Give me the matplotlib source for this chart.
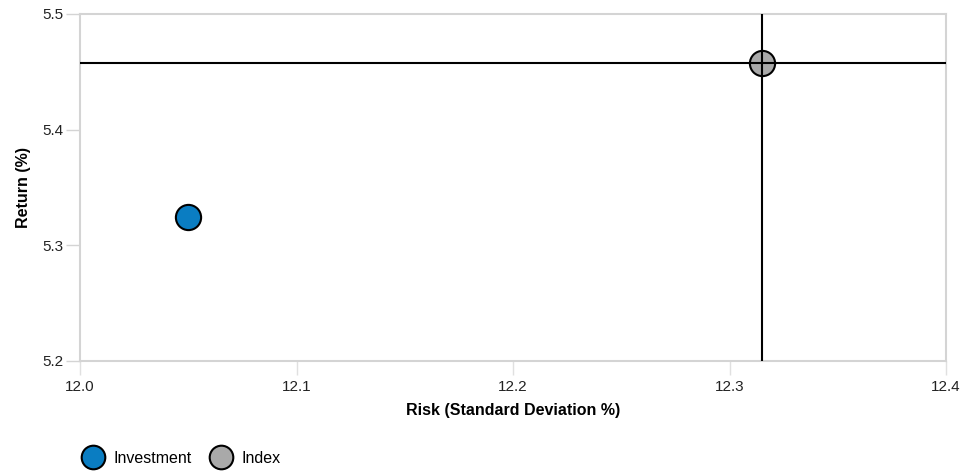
import matplotlib.pyplot as plt
from matplotlib.lines import Line2D

plt.rcParams.update({'font.family': 'Liberation Sans', 'font.size': 11})

# data
names = ['Investment', 'Index']
risk = [12.05, 12.315]
ret = [5.3245, 5.4576]
colors = ['#0a7dc2', '#a9a9a9']

xticks = [12.0, 12.1, 12.2, 12.3, 12.4]
yticks = [5.2, 5.3, 5.4, 5.5]

fig = plt.figure(figsize=(9.64, 4.71), dpi=100)
ax = fig.add_axes([80/964, 1-361/471, 866/964, 347/471])

for i in range(len(names)):
    ax.scatter(risk[i], ret[i], s=330, color=colors[i], edgecolor='k', linewidth=1.5, zorder=3)

# crosshair at index, drawn over the marker
ax.axvline(risk[1], color='k', lw=1.5, zorder=4)
ax.axhline(ret[1], color='k', lw=1.5, zorder=4)

ax.set_xlim(xticks[0], xticks[-1])
ax.set_ylim(yticks[0], yticks[-1])
ax.set_xticks(xticks)
ax.set_yticks(yticks)
ax.set_xticklabels(['%.1f' % v for v in xticks])
ax.set_yticklabels(['%.1f' % v for v in yticks])
for sp in ax.spines.values():
    sp.set_color('#d4d4d4')
    sp.set_linewidth(1.5)
ax.tick_params(axis='x', length=10, width=1, color='#e0e0e0', pad=4, labelsize=11, labelcolor='#222222')
ax.tick_params(axis='y', length=10, width=1, color='#d4d4d4', pad=2, labelsize=11, labelcolor='#222222')

ax.set_xlabel('Risk (Standard Deviation %)', fontweight='bold', fontsize=11.5, labelpad=6)
ax.set_ylabel('Return (%)', fontweight='bold', fontsize=11.5, labelpad=8)

handles = [Line2D([], [], ls='', marker='o', markersize=17, markerfacecolor=c,
                  markeredgecolor='k', markeredgewidth=1.5) for c in colors]
fig.legend(handles, names, loc='lower left', bbox_to_anchor=(66/964, -0.02), ncol=2,
           frameon=False, fontsize=11.5, handletextpad=0.5, columnspacing=1.0,
           handlelength=1.6)

plt.savefig('out.png', dpi=100)
